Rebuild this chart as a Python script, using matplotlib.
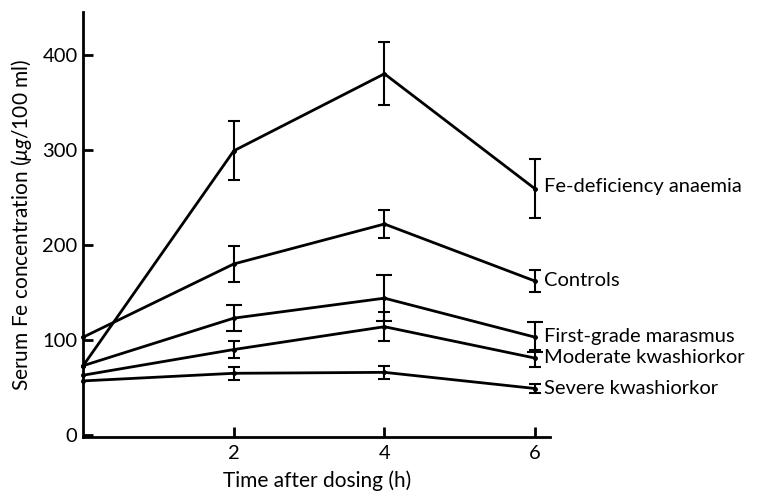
import matplotlib
matplotlib.use("Agg")
from matplotlib import pyplot as plt

plt.rcParams['font.family'] = ['Lato', 'DejaVu Sans']
plt.rcParams['mathtext.fontset'] = 'custom'
plt.rcParams['mathtext.it'] = 'Lato:italic'
plt.rcParams['mathtext.rm'] = 'Lato'

# time after dosing (h)
times = [0, 2, 4, 6]

# serum Fe concentration (ug/100 ml)
anaemia = [73, 299, 380, 259]
anaemia_err = [0, 31, 33, 31]
controls = [103, 180, 222, 162]
controls_err = [0, 19, 15, 12]
marasmus = [73, 123, 144, 103]
marasmus_err = [0, 14, 24, 16]
moderate = [63, 90, 114, 81]
moderate_err = [0, 9, 15, 9]
severe = [57, 65, 66, 49]
severe_err = [0, 7, 7, 5]

names = ['Fe-deficiency anaemia', 'Controls', 'First-grade marasmus',
         'Moderate kwashiorkor', 'Severe kwashiorkor']
label_y = [261, 163, 104, 82, 49]

fig = plt.figure(figsize=(7.63, 5.0), dpi=100)
ax = fig.add_axes([0.109, 0.126, 0.612, 0.85])

series = [(anaemia, anaemia_err, 4), (controls, controls_err, 4),
          (marasmus, marasmus_err, 6), (moderate, moderate_err, 4),
          (severe, severe_err, 4)]

for (vals, errs, cap), name, ly in zip(series, names, label_y):
    ax.plot(times, vals, color='black', lw=2, marker='o', ms=2.5,
            clip_on=False, zorder=3)
    ax.errorbar(times[1:], vals[1:], yerr=errs[1:], fmt='none',
                ecolor='black', elinewidth=1.5, capsize=cap,
                capthick=1.5, zorder=3)
    ax.text(6.12, ly, name, fontsize=14.5, va='center', ha='left')

ax.set_xlim(0, 6.2)
ax.set_ylim(-2, 445)
ax.set_xticks([2, 4, 6])
ax.set_yticks([0, 100, 200, 300, 400])
ax.tick_params(direction='in', length=7, width=2, labelsize=14.5)
ax.tick_params(axis='x', pad=6)
ax.tick_params(axis='y', pad=4)
for side in ['top', 'right']:
    ax.spines[side].set_visible(False)
for side in ['left', 'bottom']:
    ax.spines[side].set_linewidth(2)

ax.set_xlabel('Time after dosing (h)', fontsize=15, labelpad=6)
ax.set_ylabel(r'Serum Fe concentration ($\mu g$/100 ml)', fontsize=15,
              labelpad=6)

plt.savefig('out.png', dpi=100)
